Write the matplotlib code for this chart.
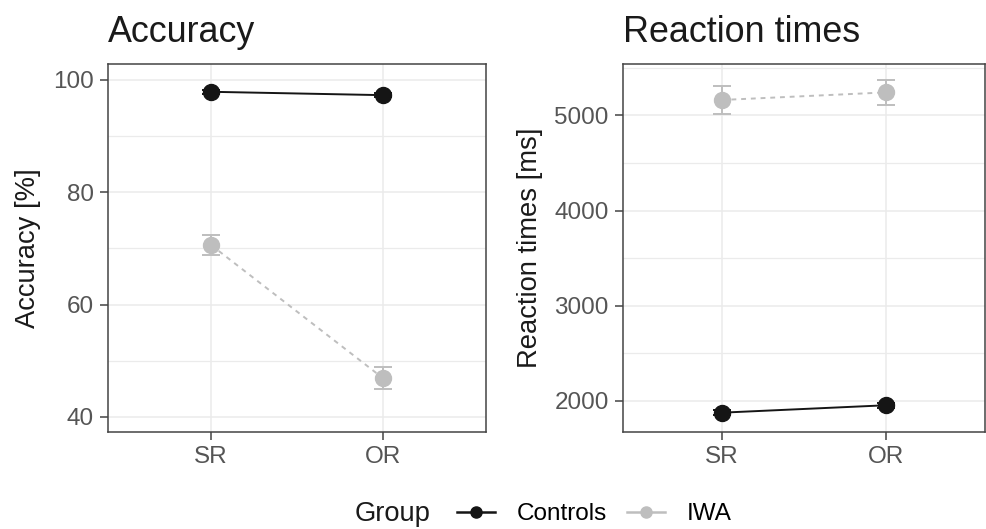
import matplotlib
matplotlib.use("Agg")
import matplotlib.pyplot as plt
from matplotlib.lines import Line2D

plt.rcParams['font.family'] = ['Liberation Sans', 'DejaVu Sans']

# condition means and standard errors per group
conditions = ["SR", "OR"]
groups = ["Controls", "IWA"]

acc_controls = [97.9, 97.3]
acc_controls_se = [0.4, 0.4]
acc_iwa = [70.6, 46.9]
acc_iwa_se = [1.8, 2.0]

rt_controls = [1877, 1955]
rt_controls_se = [25, 25]
rt_iwa = [5161, 5241]
rt_iwa_se = [145, 128]

colors = {"Controls": "#151515", "IWA": "#bebebe"}
styles = {"Controls": "-", "IWA": (0, (2.5, 2.5))}

W, H = 986, 529
fig = plt.figure(figsize=(W / 100, H / 100), dpi=100)


def px_axes(x0, y0, x1, y1):
    return fig.add_axes([x0 / W, 1 - y1 / H, (x1 - x0) / W, (y1 - y0) / H])


ax_acc = px_axes(108, 64, 486, 432)
ax_rt = px_axes(623, 64, 985, 432)


def draw_panel(ax, data, title, ylabel, ylim, yticks, minor):
    x = list(range(1, len(conditions) + 1))
    for g in groups:
        vals, se = data[g]
        ax.errorbar(x, vals, yerr=se, color=colors[g], linestyle=styles[g],
                    linewidth=1.4, marker="o", markersize=11.5, capsize=6.5,
                    elinewidth=1.4, capthick=1.4, zorder=3)
    ax.set_xlim(0.4, len(conditions) + 0.6)
    ax.set_xticks(x)
    ax.set_xticklabels(conditions)
    ax.set_ylim(*ylim)
    ax.set_yticks(yticks)
    ax.set_yticks(minor, minor=True)
    ax.grid(True, which="major", color="#ebebeb", linewidth=1.1, zorder=0)
    ax.grid(True, which="minor", axis="y", color="#ebebeb", linewidth=0.9, zorder=0)
    ax.set_axisbelow(True)
    for s in ax.spines.values():
        s.set_color("#444444")
        s.set_linewidth(1.1)
    ax.tick_params(which="major", length=5.8, width=1.1, color="#444444",
                   labelcolor="#555555", labelsize=17.5, pad=4.5)
    ax.tick_params(which="minor", length=0)
    ax.set_title(title, loc="left", fontsize=25.8, color="#1a1a1a", pad=16)


draw_panel(ax_acc, {"Controls": (acc_controls, acc_controls_se),
                    "IWA": (acc_iwa, acc_iwa_se)},
           "Accuracy", "Accuracy [%]", (37.3, 102.85),
           [40, 60, 80, 100], [50, 70, 90])
draw_panel(ax_rt, {"Controls": (rt_controls, rt_controls_se),
                   "IWA": (rt_iwa, rt_iwa_se)},
           "Reaction times", "Reaction times [ms]", (1674, 5539),
           [2000, 3000, 4000, 5000], [2500, 3500, 4500, 5500])

# y axis titles
fig.text(28.5 / W, 1 - 248 / H, "Accuracy [%]", rotation=90, ha="center",
         va="center", fontsize=19.7, color="#1a1a1a")
fig.text(530 / W, 1 - 248 / H, "Reaction times [ms]", rotation=90, ha="center",
         va="center", fontsize=19.7, color="#1a1a1a")

# legend at the bottom
handles = [Line2D([], [], color=colors[g], linestyle="-", linewidth=1.8,
                  marker="o", markersize=8) for g in groups]
fig.legend(handles, groups, loc="center left", ncol=2, frameon=False,
           bbox_to_anchor=(457 / W, 1 - 514 / H), borderaxespad=0, borderpad=0,
           fontsize=17.5, handlelength=1.56, handletextpad=0.9,
           columnspacing=0.82)
fig.text(355 / W, 1 - 514 / H, "Group", ha="left", va="center",
         fontsize=19.7, color="#1a1a1a")

fig.savefig("out.png", dpi=100)
